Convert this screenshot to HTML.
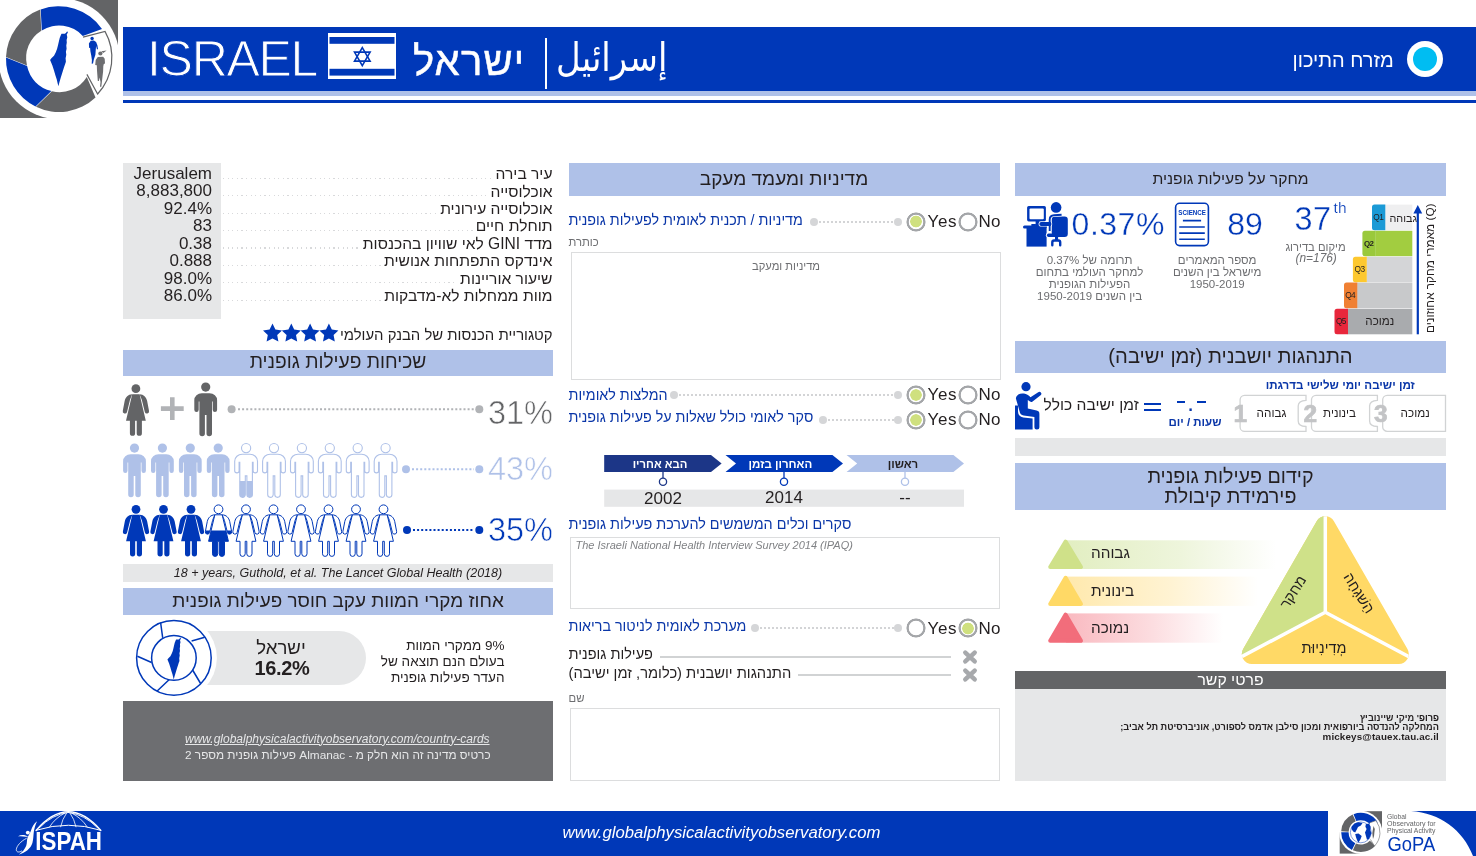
<!DOCTYPE html>
<html lang="he">
<head>
<meta charset="utf-8">
<title>Israel – GoPA Country Card</title>
<style>
*{box-sizing:border-box;margin:0;padding:0}
html,body{width:1476px;height:856px;overflow:hidden;background:#fff}
body{position:relative;font-family:"Liberation Sans","DejaVu Sans",sans-serif;color:#231f20}
.a{position:absolute}
.t{position:absolute;white-space:nowrap;line-height:1}
.r{direction:rtl;unicode-bidi:embed}
.lab{background:#fff;padding-left:3px}
.hb{position:absolute;background:#afc1e8;color:#231f20;text-align:center;direction:rtl;white-space:nowrap}
.blue{color:#0a36a8}
.blue.thin{color:#0038b8}
.dots{height:1.2px;background:repeating-linear-gradient(90deg,#d8d9db 0 1.2px,transparent 1.2px 4.6px)}
.rad{width:20px;height:20px;margin:-0.7px;border-radius:50%;background:radial-gradient(circle,#fff 0 6.9px,#a4a6a9 7.6px 9.2px,rgba(164,166,169,0) 9.9px)}
.dot{width:8px;height:8px;border-radius:50%;background:#d5d6d8}
.dl{height:2px;background:repeating-linear-gradient(90deg,#d3d4d6 0 2px,transparent 2px 4px)}
.box{border:1px solid #dcddde;background:#fff}
.thin{-webkit-text-stroke:0.35px #fff}
/* SECTION-CSS */
</style>
</head>
<body>
<!-- HEADER -->
<div class="a" style="left:123px;top:27px;width:1353px;height:63.5px;background:#0038b8"></div>
<div class="a" style="left:123px;top:90.5px;width:1353px;height:5px;background:#afc1e8"></div>
<div class="a" style="left:123px;top:99.5px;width:1353px;height:3px;background:#0038b8"></div>

<!-- logo -->
<svg class="a" style="left:0;top:0" width="124" height="124" viewBox="0 0 124 124">
 <rect x="70" y="0" width="48" height="50" fill="#636466"/><rect x="0" y="70" width="50" height="48" fill="#636466"/>
 <circle cx="59" cy="58.5" r="60.5" fill="#fff"/>
 <!-- ring segments -->
 <path d="M40.7 9.4 A53 53 0 0 1 102 28.9 L82.8 36 A32 32 0 0 0 41.8 30.4 Z" fill="#0038b8"/>
 <path d="M40.2 9.6 A53 53 0 0 0 6 57 L27 65.5 A32 32 0 0 1 41.3 30.7 Z" fill="#636466"/>
 <path d="M6 57.6 A53 53 0 0 0 35.5 106.5 L51.4 91 A32 32 0 0 1 27.1 66.1 Z" fill="#0038b8"/>
 <path d="M36 106.8 A53 53 0 0 0 95.5 97.5 L86.8 77 A32 32 0 0 1 51.9 91.3 Z" fill="#636466"/>
 <path d="M83 37.2L105 31.4A53.5 53.5 0 0 1 97.6 94L86.9 74.4" fill="#fff" stroke="#636466" stroke-width="1.2"/>
 <!-- map -->
 <path d="M67.2 31.3L67.9 32.4L66.7 34.6L67.3 37.3L66.6 39.9L66.8 42.5L66.3 45.6L66.6 48.7L65.9 51.7L66.3 54.8L65.6 58.3L65.9 61.8L65.0 64.4L64.1 67.1L63.0 70.6L61.9 74.1L60.8 77.6L59.5 82.0L58.4 86.3L57.5 82.8L56.7 79.3L55.3 75.0L54.0 70.6L52.3 65.3L50.1 60.1L51.4 58.3L54.0 55.7L55.8 52.2L57.1 48.7L58.0 45.2L58.8 41.7L59.7 38.1L60.9 35.1L61.5 33.8L65.0 33.8L66.3 32.4Z" fill="#0038b8"/>
 <!-- runners -->
 <g fill="#0038b8"><circle cx="92.1" cy="38.5" r="1.7"/><path d="M90.7 40.8L93.9 40.6L96.1 42.1L97.4 45.2L98.0 49.1L97.0 49.5L96.1 46.0L95.7 50.4L95.4 54.8L93.9 59.2L93.0 63.6L91.7 63.7L91.9 60.1L91.3 55.7L90.4 51.3L90.1 47.8L89.1 48.0L88.9 43.4Z"/></g>
 <g fill="#6d6e71"><circle cx="100.4" cy="53.5" r="2.1"/><path d="M101.3 51.3L106.6 50.4L103.3 52.9Z"/><path d="M97.8 57.0L103.1 56.7L104.7 58.7L105.0 63.6L103.8 64.0L103.3 66.2L103.1 71.5L102.4 77.6L101.8 82.8L101.3 86.8L100.0 86.8L100.5 82.0L99.6 77.6L98.9 81.1L97.8 81.1L97.4 75.8L97.0 70.6L96.8 65.3L95.2 64.9L95.7 60.1Z"/></g>
</svg>
<div class="t" style="left:147px;top:30px;font-size:50px;line-height:58px;color:#fff;letter-spacing:-1.3px;-webkit-text-stroke:1px #0038b8">ISRAEL</div>
<!-- flag -->
<svg class="a" style="left:328px;top:33px" width="68" height="46" viewBox="0 0 68 46">
 <rect x="0.75" y="0.75" width="66.5" height="44.5" fill="#fff" stroke="#fff" stroke-width="1.5"/>
 <rect x="1.5" y="4" width="65" height="6.8" fill="#0038b8"/>
 <rect x="1.5" y="35.8" width="65" height="6.8" fill="#0038b8"/>
 <g fill="none" stroke="#0038b8" stroke-width="1.6" stroke-linejoin="miter">
  <path d="M34.3 14.6 L42.1 28.1 L26.5 28.1 Z"/><path d="M34.3 32.6 L42.1 19.1 L26.5 19.1 Z"/>
 </g>
</svg>
<div class="t r" style="left:413px;top:32px;font-size:40px;line-height:58px;color:#fff;letter-spacing:1.2px;-webkit-text-stroke:0.5px #fff">ישראל</div>
<div class="a" style="left:545px;top:38px;width:1.6px;height:51px;background:#fff"></div>
<div class="t r" style="left:556px;top:29.2px;font-size:36px;line-height:58px;color:#fff;font-family:'DejaVu Sans',sans-serif;transform:scale(0.942,1.08);transform-origin:0 50%">إسرائيل</div>
<div class="t r" style="left:1292.5px;top:49px;font-size:20px;line-height:23px;color:#fff">מזרח התיכון</div>
<div class="a" style="left:1407px;top:41px;width:36px;height:36px;border-radius:50%;background:#fff"></div>
<div class="a" style="left:1413px;top:47px;width:24px;height:24px;border-radius:50%;background:#00bdf2"></div>
<!-- HEADER-CONTENT -->

<!-- LEFT -->
<div class="a" style="left:123px;top:163px;width:98px;height:156px;background:#e6e7e8"></div>
<div class="t" style="right:1264px;top:163.9px;font-size:17px;line-height:20px">Jerusalem</div>
<div class="a dots" style="left:223px;top:177.7px;width:329px"></div>
<div class="t r lab" style="right:923.5px;top:164.1px;font-size:15.6px;line-height:20px">עיר בירה</div>
<div class="t" style="right:1264px;top:181.3px;font-size:17px;line-height:20px">8,883,800</div>
<div class="a dots" style="left:223px;top:195.1px;width:329px"></div>
<div class="t r lab" style="right:923.5px;top:181.5px;font-size:15.6px;line-height:20px">אוכלוסייה</div>
<div class="t" style="right:1264px;top:198.8px;font-size:17px;line-height:20px">92.4%</div>
<div class="a dots" style="left:223px;top:212.6px;width:329px"></div>
<div class="t r lab" style="right:923.5px;top:199.0px;font-size:15.6px;line-height:20px">אוכלוסייה עירונית</div>
<div class="t" style="right:1264px;top:216.2px;font-size:17px;line-height:20px">83</div>
<div class="a dots" style="left:223px;top:230.0px;width:329px"></div>
<div class="t r lab" style="right:923.5px;top:216.4px;font-size:15.6px;line-height:20px">תוחלת חיים</div>
<div class="t" style="right:1264px;top:233.6px;font-size:17px;line-height:20px">0.38</div>
<div class="a dots" style="left:223px;top:247.4px;width:329px"></div>
<div class="t r lab" style="right:923.5px;top:233.8px;font-size:15.6px;line-height:20px">מדד GINI לאי שוויון בהכנסות</div>
<div class="t" style="right:1264px;top:251.1px;font-size:17px;line-height:20px">0.888</div>
<div class="a dots" style="left:223px;top:264.9px;width:329px"></div>
<div class="t r lab" style="right:923.5px;top:251.3px;font-size:15.6px;line-height:20px">אינדקס התפתחות אנושית</div>
<div class="t" style="right:1264px;top:268.5px;font-size:17px;line-height:20px">98.0%</div>
<div class="a dots" style="left:223px;top:282.3px;width:329px"></div>
<div class="t r lab" style="right:923.5px;top:268.7px;font-size:15.6px;line-height:20px">שיעור אוריינות</div>
<div class="t" style="right:1264px;top:285.9px;font-size:17px;line-height:20px">86.0%</div>
<div class="a dots" style="left:223px;top:299.7px;width:329px"></div>
<div class="t r lab" style="right:923.5px;top:286.1px;font-size:15.6px;line-height:20px">מוות ממחלות לא-מדבקות</div>
<div class="t r" style="right:923.5px;top:324.5px;font-size:14.9px;line-height:20px">קטגוריית הכנסות של הבנק העולמי</div>
<svg class="a" style="left:262px;top:322px" width="78" height="22" viewBox="0 0 78 22"><defs><path id="st" d="M0 -10L2.9 -4L9.5 -3.1L4.7 1.5L5.9 8.1L0 5L-5.9 8.1L-4.7 1.5L-9.5 -3.1L-2.9 -4Z"/></defs><g fill="#0038b8"><use href="#st" x="10.5" y="11.5"/><use href="#st" x="29.3" y="11.5"/><use href="#st" x="48.1" y="11.5"/><use href="#st" x="66.9" y="11.5"/></g></svg>
<div class="hb" style="left:123px;top:349.6px;width:430px;height:26px;font-size:19.2px;line-height:24.6px">שכיחות פעילות גופנית</div>
<svg class="a" style="left:118px;top:378px" width="440" height="184" viewBox="118 378 440 184">
<defs>
<g id="man"><circle cx="11.4" cy="4.7" r="4.6"/><path d="M7.5 10.8H15.3A7.5 7 0 0 1 22.8 17.8V27.3A2.2 2.2 0 0 1 18.4 27.3V19H17.7V51.2A2.6 2.6 0 0 1 12.2 51.2V32.5H10.6V51.2A2.6 2.6 0 0 1 5.1 51.2V19H4.4V27.3A2.2 2.2 0 0 1 0 27.3V17.8A7.5 7 0 0 1 7.5 10.8Z"/></g>
<g id="wom"><circle cx="13.3" cy="4.5" r="4.4"/>
<path d="M9.6 10H17L23.2 36.5H19.3V49A2.5 2.5 0 0 1 14.1 49V36.5H12.5V49A2.5 2.5 0 0 1 7.3 49V36.5H3.4Z"/>
<path d="M9.6 10C5.4 10.2 3 13 2.1 16.6L0.2 26.6A2.15 2.15 0 0 0 4.4 27.7L7.4 15.6L9.6 10Z"/>
<path d="M17 10C21.2 10.2 23.6 13 24.5 16.6L26.4 26.6A2.15 2.15 0 0 1 22.2 27.7L19.2 15.6L17 10Z"/></g>
<clipPath id="cm"><rect x="-2" y="37.6" width="30" height="20"/></clipPath>
<clipPath id="cw"><rect x="-2" y="25.7" width="32" height="30"/></clipPath>
</defs>
<g fill="#636466"><use href="#wom" x="122.6" y="384.2"/><use href="#man" x="194.3" y="382.4"/></g>
<path d="M172.3 397.2V420M160.9 408.6H183.7" stroke="#b1b3b6" stroke-width="4.6" fill="none"/>
<g fill="#b1b3b6"><circle cx="231.6" cy="409.2" r="4"/><circle cx="479.3" cy="409.2" r="4"/></g>
<path d="M238 409.2H474" stroke="#b1b3b6" stroke-width="2" stroke-dasharray="2 2.1" fill="none"/>
<use href="#man" x="123.1" y="443.4" fill="#afc1e8"/><use href="#man" x="151.0" y="443.4" fill="#afc1e8"/><use href="#man" x="178.9" y="443.4" fill="#afc1e8"/><use href="#man" x="206.8" y="443.4" fill="#afc1e8"/><use href="#man" x="234.7" y="443.4" fill="#fff" stroke="#afc1e8" stroke-width="1.1"/><g transform="translate(234.7 443.4)" clip-path="url(#cm)"><use href="#man" fill="#afc1e8"/></g><use href="#man" x="262.6" y="443.4" fill="#fff" stroke="#afc1e8" stroke-width="1.1"/><use href="#man" x="290.5" y="443.4" fill="#fff" stroke="#afc1e8" stroke-width="1.1"/><use href="#man" x="318.4" y="443.4" fill="#fff" stroke="#afc1e8" stroke-width="1.1"/><use href="#man" x="346.3" y="443.4" fill="#fff" stroke="#afc1e8" stroke-width="1.1"/><use href="#man" x="374.2" y="443.4" fill="#fff" stroke="#afc1e8" stroke-width="1.1"/>
<g fill="#afc1e8"><circle cx="406" cy="469.3" r="4"/><circle cx="479.3" cy="469.3" r="4"/></g>
<path d="M412 469.3H474" stroke="#afc1e8" stroke-width="2" stroke-dasharray="2 2.1" fill="none"/>
<use href="#wom" x="122.7" y="504.8" fill="#0038b8"/><use href="#wom" x="150.2" y="504.8" fill="#0038b8"/><use href="#wom" x="177.7" y="504.8" fill="#0038b8"/><use href="#wom" x="205.2" y="504.8" fill="#fff" stroke="#0038b8" stroke-width="1"/><g transform="translate(205.2 504.8)" clip-path="url(#cw)"><use href="#wom" fill="#0038b8"/></g><use href="#wom" x="232.7" y="504.8" fill="#fff" stroke="#0038b8" stroke-width="1"/><use href="#wom" x="260.2" y="504.8" fill="#fff" stroke="#0038b8" stroke-width="1"/><use href="#wom" x="287.7" y="504.8" fill="#fff" stroke="#0038b8" stroke-width="1"/><use href="#wom" x="315.2" y="504.8" fill="#fff" stroke="#0038b8" stroke-width="1"/><use href="#wom" x="342.7" y="504.8" fill="#fff" stroke="#0038b8" stroke-width="1"/><use href="#wom" x="370.2" y="504.8" fill="#fff" stroke="#0038b8" stroke-width="1"/>
<g fill="#0038b8"><circle cx="407" cy="530" r="4"/><circle cx="479.3" cy="530" r="4"/></g>
<path d="M413 530H474" stroke="#0038b8" stroke-width="2" stroke-dasharray="2 2.1" fill="none"/>
</svg>
<div class="t" style="right:923px;top:395px;font-size:32.5px;line-height:36px;-webkit-text-stroke:0.6px #fff;color:#636466">31%</div>
<div class="t" style="right:923px;top:451px;font-size:32.5px;line-height:36px;-webkit-text-stroke:0.6px #fff;color:#afc1e8">43%</div>
<div class="t" style="right:923px;top:512px;font-size:32.5px;line-height:36px;-webkit-text-stroke:0.6px #fff;color:#0038b8">35%</div>
<div class="a" style="left:123px;top:563.5px;width:430px;height:18px;background:#e6e7e8;text-align:center;font-style:italic;font-size:12.5px;line-height:18px;white-space:nowrap">18 + years, Guthold, et al. The Lancet Global Health (2018)</div>
<div class="hb" style="left:123px;top:588px;width:430px;height:26.5px;font-size:18.9px;line-height:25px">אחוז מקרי המוות עקב חוסר פעילות גופנית</div>
<div class="a" style="left:180px;top:630.8px;width:185.5px;height:54px;background:#e6e7e8;border-radius:0 27px 27px 0"></div>
<svg class="a" style="left:130px;top:614px" width="90" height="88" viewBox="130 614 90 88">
<circle cx="173.9" cy="657.9" r="43" fill="#fff"/>
<g fill="none" stroke="#0038b8" stroke-width="1.5"><circle cx="173.9" cy="657.9" r="37.3"/><circle cx="173.9" cy="657.9" r="22.3"/>
<path d="M160.6 622.5L162.7 637.8M191.6 641L204.8 637.2M192.6 670L200.6 683.5M169.3 679.5L156.9 691.2M137.4 656.2L151.6 662.5"/></g>
<path transform="translate(174.2 658.6) scale(0.76) translate(-59 -58.8)" d="M67.2 31.3L67.9 32.4L66.7 34.6L67.3 37.3L66.6 39.9L66.8 42.5L66.3 45.6L66.6 48.7L65.9 51.7L66.3 54.8L65.6 58.3L65.9 61.8L65.0 64.4L64.1 67.1L63.0 70.6L61.9 74.1L60.8 77.6L59.5 82.0L58.4 86.3L57.5 82.8L56.7 79.3L55.3 75.0L54.0 70.6L52.3 65.3L50.1 60.1L51.4 58.3L54.0 55.7L55.8 52.2L57.1 48.7L58.0 45.2L58.8 41.7L59.7 38.1L60.9 35.1L61.5 33.8L65.0 33.8L66.3 32.4Z" fill="#0038b8"/>
</svg>
<div class="t r" style="left:240px;width:82px;text-align:center;top:636.5px;font-size:18.6px;line-height:22px">ישראל</div>
<div class="t" style="left:240px;width:84px;text-align:center;top:656px;font-size:20px;line-height:24px;font-weight:bold;letter-spacing:-0.3px">16.2%</div>
<div class="t r" style="right:971.5px;top:637.6px;font-size:13.5px;line-height:16.2px;text-align:right">9% ממקרי המוות<br>בעולם הנם תוצאה של<br>העדר פעילות גופנית</div>
<div class="a" style="left:123px;top:701px;width:430px;height:80px;background:#6d6e71"></div>
<div class="t" style="left:185px;top:731.5px;font-size:12px;line-height:14px;font-style:italic;color:#e6e7e8;text-decoration:underline">www.globalphysicalactivityobservatory.com/country-cards</div>
<div class="t r" style="left:185px;top:747.5px;font-size:11.8px;line-height:14px;color:#e6e7e8">כרטיס מדינה זה הוא חלק מ - Almanac פעילות גופנית מספר 2</div>


<!-- MIDDLE -->
<div class="hb" style="left:568.5px;top:163.4px;width:431px;height:32.3px;font-size:19px;line-height:31.8px">מדיניות ומעמד מעקב</div>
<div class="t r blue" style="left:568.5px;top:211.4px;font-size:14.3px;line-height:18px">מדיניות / תכנית לאומית לפעילות גופנית</div>
<div class="a dot" style="left:810.0px;top:217.6px"></div><div class="a dot" style="left:893.5px;top:217.6px"></div><div class="a dl" style="left:819px;top:221px;width:74px"></div>
<div class="a rad" style="left:906.7px;top:212.3px"></div><div class="a" style="left:909.7px;top:215.3px;width:12.6px;height:12.6px;border-radius:50%;background:radial-gradient(circle,#cfe07f 0 5.5px,rgba(207,224,127,0) 6.2px)"></div>
<div class="a rad" style="left:958.7px;top:212.3px"></div>
<div class="t" style="left:927.6px;top:212px;font-size:17px;line-height:20px;letter-spacing:0.6px">Yes</div><div class="t" style="left:978.6px;top:212px;font-size:17px;line-height:20px;letter-spacing:0.2px">No</div>
<div class="t r" style="left:568.5px;top:235.5px;font-size:11.3px;line-height:13px;color:#6d6e71">כותרת</div>
<div class="a box" style="left:571px;top:252px;width:430px;height:127.5px"></div>
<div class="t r" style="left:571px;width:430px;text-align:center;top:259.5px;font-size:11.2px;line-height:13px;color:#6d6e71">מדיניות ומעקב</div>
<div class="t r blue" style="left:568.5px;top:385.8px;font-size:14.3px;line-height:18px">המלצות לאומיות</div>
<div class="a dot" style="left:670.3px;top:391px"></div><div class="a dot" style="left:893.5px;top:391px"></div><div class="a dl" style="left:679px;top:394px;width:214px"></div>
<div class="a rad" style="left:906.7px;top:385.7px"></div><div class="a" style="left:909.7px;top:388.7px;width:12.6px;height:12.6px;border-radius:50%;background:radial-gradient(circle,#cfe07f 0 5.5px,rgba(207,224,127,0) 6.2px)"></div>
<div class="a rad" style="left:958.7px;top:385.7px"></div>
<div class="t" style="left:927.6px;top:385px;font-size:17px;line-height:20px;letter-spacing:0.6px">Yes</div><div class="t" style="left:978.6px;top:385px;font-size:17px;line-height:20px;letter-spacing:0.2px">No</div>
<div class="t r blue" style="left:568.5px;top:408.1px;font-size:14.3px;line-height:18px">סקר לאומי כולל שאלות על פעילות גופנית</div>
<div class="a dot" style="left:819.0px;top:415.8px"></div><div class="a dot" style="left:893.5px;top:415.8px"></div><div class="a dl" style="left:828px;top:419px;width:66px"></div>
<div class="a rad" style="left:906.7px;top:410.5px"></div><div class="a" style="left:909.7px;top:413.5px;width:12.6px;height:12.6px;border-radius:50%;background:radial-gradient(circle,#cfe07f 0 5.5px,rgba(207,224,127,0) 6.2px)"></div>
<div class="a rad" style="left:958.7px;top:410.5px"></div>
<div class="t" style="left:927.6px;top:410px;font-size:17px;line-height:20px;letter-spacing:0.6px">Yes</div><div class="t" style="left:978.6px;top:410px;font-size:17px;line-height:20px;letter-spacing:0.2px">No</div>
<svg class="a" style="left:600px;top:452px" width="370" height="58" viewBox="600 452 370 58">
<path d="M604.2 454.9H711L721.6 463.4L711 472H604.2Z" fill="#1c3687"/>
<path d="M725.5 454.9H832.4L843 463.4L832.4 472H725.5L736 463.4Z" fill="#0038b8"/>
<path d="M846.6 454.9H953.4L964 463.4L953.4 472H846.6L857.2 463.4Z" fill="#afc1e8"/>
<rect x="604.2" y="489.6" width="359.8" height="17.2" fill="#e6e7e8"/>
<g fill="#fff" stroke-width="1.3"><path d="M663 472V478" stroke="#1c3687"/><circle cx="663" cy="481.8" r="3.6" stroke="#1c3687"/>
<path d="M784 472V478" stroke="#0038b8"/><circle cx="784" cy="481.8" r="3.6" stroke="#0038b8"/>
<path d="M905 472V478" stroke="#afc1e8"/><circle cx="905" cy="481.8" r="3.6" stroke="#afc1e8"/></g>
</svg>
<div class="t r" style="left:610px;width:100px;text-align:center;top:456.5px;font-size:11.3px;line-height:14px;font-weight:bold;color:#fff">הבא אחריו</div>
<div class="t r" style="left:730.4px;width:100px;text-align:center;top:456.5px;font-size:11.5px;line-height:14px;font-weight:bold;color:#fff">האחרון בזמן</div>
<div class="t r" style="left:853px;width:100px;text-align:center;top:456.5px;font-size:11.5px;line-height:14px;font-weight:bold;color:#231f20">ראשון</div>
<div class="t" style="left:613px;width:100px;text-align:center;top:488.8px;font-size:17px;line-height:19px">2002</div>
<div class="t" style="left:734px;width:100px;text-align:center;top:487.8px;font-size:17px;line-height:19px">2014</div>
<div class="t" style="left:855px;width:100px;text-align:center;top:488.2px;font-size:17px;line-height:19px">--</div>
<div class="t r blue" style="left:568.5px;top:514.8px;font-size:14.4px;line-height:18px">סקרים וכלים המשמשים להערכת פעילות גופנית</div>
<div class="a box" style="left:570px;top:537px;width:429.5px;height:72px"></div>
<div class="t" style="left:575.5px;top:539.2px;font-size:11px;line-height:13px;font-style:italic;color:#808285">The Israeli National Health Interview Survey 2014 (IPAQ)</div>
<div class="t r blue" style="left:568.5px;top:617.2px;font-size:14.3px;line-height:18px">מערכת לאומית לניטור בריאות</div>
<div class="a dot" style="left:751.0px;top:624.4px"></div><div class="a dot" style="left:893.5px;top:624.4px"></div><div class="a dl" style="left:760px;top:627px;width:134px"></div>
<div class="a rad" style="left:906.7px;top:619.1px"></div>
<div class="a rad" style="left:958.7px;top:619.1px"></div><div class="a" style="left:961.7px;top:622.1px;width:12.6px;height:12.6px;border-radius:50%;background:radial-gradient(circle,#cfe07f 0 5.5px,rgba(207,224,127,0) 6.2px)"></div>
<div class="t" style="left:927.6px;top:619px;font-size:17px;line-height:20px;letter-spacing:0.6px">Yes</div><div class="t" style="left:978.6px;top:619px;font-size:17px;line-height:20px;letter-spacing:0.2px">No</div>
<div class="t r" style="left:568.5px;top:645.3px;font-size:14.5px;line-height:18px">פעילות גופנית</div><div class="a" style="left:659.7px;top:656.3px;width:291.5px;height:1.4px;background:#d1d3d4"></div><svg class="a" style="left:962px;top:649.0px" width="16" height="16" viewBox="-8 -8 16 16"><path d="M-4.7 -4.4L4.7 4.4M4.7 -4.4L-4.7 4.4" stroke="#a7a9ac" stroke-width="4.5" stroke-linecap="round"/></svg>
<div class="t r" style="left:568.5px;top:663.5px;font-size:14.7px;line-height:18px">התנהגות יושבנית (כלומר, זמן ישיבה)</div><div class="a" style="left:797.8px;top:674.3px;width:153.4px;height:1.4px;background:#d1d3d4"></div><svg class="a" style="left:962px;top:667.0px" width="16" height="16" viewBox="-8 -8 16 16"><path d="M-4.7 -4.4L4.7 4.4M4.7 -4.4L-4.7 4.4" stroke="#a7a9ac" stroke-width="4.5" stroke-linecap="round"/></svg>
<div class="t r" style="left:568.5px;top:691.8px;font-size:11.3px;line-height:13px;color:#6d6e71">שם</div>
<div class="a box" style="left:570px;top:708px;width:429.5px;height:72.5px"></div>


<!-- RIGHT -->
<div class="hb" style="left:1015px;top:163.4px;width:431px;height:32.2px;font-size:15.7px;line-height:32px">מחקר על פעילות גופנית</div>
<svg class="a" style="left:1020px;top:200px" width="52" height="50" viewBox="1020 200 52 50">
<g fill="#0038b8">
<rect x="1027.1" y="205.9" width="18.8" height="15.5" rx="1.6"/>
<rect x="1029.5" y="208.6" width="14.3" height="10.7" rx="1" fill="#fff"/>
<rect x="1035.6" y="221" width="3.7" height="5"/>
<rect x="1031.2" y="223.9" width="5" height="2.2" rx="0.8"/>
<path d="M1024.5 225.5H1038V228.5H1024.5A1.5 1.5 0 0 1 1024.5 225.5Z"/>
<rect x="1026.5" y="226" width="20.1" height="20.6"/>
<rect x="1037" y="224.1" width="9.6" height="4"/>
<circle cx="1056.1" cy="207.4" r="5.3"/>
<rect x="1051.7" y="216.5" width="16.1" height="20.4" rx="3.2"/>
<path d="M1048.3 232.8H1051.6V237.6H1048.3A2.4 2.4 0 0 1 1048.3 232.8Z" fill="#fff"/>
<path d="M1048.6 235.2H1060" stroke="#0038b8" stroke-width="3.4" stroke-linecap="round" fill="none"/>
<path d="M1049.7 231V219.6Q1049.7 215.4 1054 215.2L1061.6 214.7" stroke="#fff" stroke-width="3.2" fill="none"/>
<path d="M1041.2 224H1049.6" stroke="#fff" stroke-width="5.2" stroke-linecap="round" fill="none"/>
<path d="M1049.7 231V219.6Q1049.7 215.4 1054 215.2L1061.6 214.7" stroke="#0038b8" stroke-width="1.9" fill="none"/>
<path d="M1041.2 224H1049.6" stroke="#0038b8" stroke-width="3.8" stroke-linecap="round" fill="none"/>
<rect x="1049" y="222.1" width="1.65" height="3.8"/>
<rect x="1055" y="236.5" width="3.1" height="4"/>
<path d="M1051.1 245.3V242.3A3 3 0 0 1 1054.1 239.3H1058.4A3 3 0 0 1 1061.4 242.3V245.3A1.2 1.2 0 0 1 1059 245.3V242.6A0.8 0.8 0 0 0 1058.2 241.8H1054.3A0.8 0.8 0 0 0 1053.5 242.6V245.3A1.2 1.2 0 0 1 1051.1 245.3Z"/>
</g></svg>
<div class="t blue thin" style="left:1071.6px;top:205.6px;font-size:32px;line-height:36px;letter-spacing:0.5px">0.37%</div>
<svg class="a" style="left:1172px;top:200px" width="40" height="50" viewBox="1172 200 40 50">
<rect x="1175.6" y="203.3" width="32.8" height="42.3" rx="4" fill="#fff" stroke="#0038b8" stroke-width="1.6"/>
<path d="M1182.9 220.6H1201.1M1179.2 227H1204.8M1179.2 233.1H1204.8M1179.2 239.2H1204.8" stroke="#0038b8" stroke-width="1.6" fill="none"/>
<text x="1192.1" y="214.7" text-anchor="middle" font-family="Liberation Sans, sans-serif" font-weight="bold" font-size="6.6" fill="#0038b8" textLength="27.6" lengthAdjust="spacingAndGlyphs">SCIENCE</text>
</svg>
<div class="t blue thin" style="left:1227.2px;top:205.8px;font-size:32px;line-height:36px">89</div>
<div class="t r" style="left:1029.6px;width:120px;text-align:center;top:255.4px;font-size:11.5px;line-height:11.75px;color:#6d6e71;white-space:normal">תרומה של 0.37%<br>למחקר העולמי בתחום<br>הפעילות הגופנית<br>בין השנים 1950-2019</div>
<div class="t r" style="left:1157.2px;width:120px;text-align:center;top:255.4px;font-size:11.5px;line-height:11.75px;color:#6d6e71;white-space:normal">מספר המאמרים<br>מישראל בין השנים<br>1950-2019</div>
<div class="t blue thin" style="left:1294.4px;top:201.3px;font-size:32.4px;line-height:36px;letter-spacing:0.7px">37<span style="font-size:15.4px;position:relative;top:-16.9px;left:1.6px;letter-spacing:0.3px;-webkit-text-stroke:0.2px #fff">th</span></div>
<div class="t r" style="left:1255.5px;width:120px;text-align:center;top:240.6px;font-size:11.2px;line-height:13px;color:#6d6e71">מיקום בדירוג</div>
<div class="t" style="left:1256.2px;width:120px;text-align:center;top:251px;font-size:11.9px;line-height:14px;font-style:italic;color:#6d6e71">(n=176)</div>
<svg class="a" style="left:1330px;top:200px" width="125" height="140" viewBox="1330 200 125 140">
<rect x="1385" y="204.6" width="27.3" height="25.6" fill="#efeff0"/>
<path d="M1374.5 204.6H1385.3V230.2H1374.5A2.5 2.5 0 0 1 1372 227.7V207.1A2.5 2.5 0 0 1 1374.5 204.6Z" fill="#1b9ad6"/>
<rect x="1375.5" y="230.8" width="36.8" height="25.4" fill="#a2cd40"/>
<path d="M1364.9 230.8H1375.7V256.2H1364.9A2.5 2.5 0 0 1 1362.4 253.7V233.3A2.5 2.5 0 0 1 1364.9 230.8Z" fill="#9ac93c"/>
<rect x="1366.6" y="256.7" width="45.7" height="25.5" fill="#d4d5d7"/>
<path d="M1355.4 256.7H1366.8V282.2H1355.4A2.5 2.5 0 0 1 1352.9 279.7V259.2A2.5 2.5 0 0 1 1355.4 256.7Z" fill="#fdc82f"/>
<rect x="1357.1" y="282.6" width="55.2" height="25.6" fill="#c8c9cb"/>
<path d="M1346.5 282.6H1357.3V308.2H1346.5A2.5 2.5 0 0 1 1344 305.7V285.1A2.5 2.5 0 0 1 1346.5 282.6Z" fill="#f08033"/>
<rect x="1347.8" y="308.8" width="64.5" height="25.5" fill="#a9abae"/>
<path d="M1337 308.8H1348V334.3H1337A2.5 2.5 0 0 1 1334.5 331.8V311.3A2.5 2.5 0 0 1 1337 308.8Z" fill="#e8273c"/>
<g font-family="Liberation Sans, sans-serif" font-size="8.3" fill="#231f20" text-anchor="middle" letter-spacing="-0.55">
<text x="1378.3" y="220.4">Q1</text><text x="1368.7" y="246.2" font-weight="bold" font-size="7.9">Q2</text><text x="1359.5" y="272.4">Q3</text><text x="1350.2" y="298.4">Q4</text><text x="1340.9" y="324.4">Q5</text></g>
<path d="M1417.8 334.3V212" stroke="#0038b8" stroke-width="2.2" fill="none"/>
<path d="M1417.8 205L1422.2 213.6H1413.4Z" fill="#0038b8"/>
</svg>
<div class="t r" style="left:1389.5px;top:211.4px;font-size:10.8px;line-height:14px;color:#231f20">גבוהה</div>
<div class="t r" style="left:1365.3px;top:314.2px;font-size:11.6px;line-height:14px;color:#231f20">נמוכה</div>
<div class="t" style="left:1366.2px;top:262px;width:128px;text-align:center;font-size:11.8px;line-height:14px;transform:rotate(-90deg);direction:ltr">מאמרי מחקר אחוזונים (Q)</div>
<div class="hb" style="left:1015px;top:341px;width:431px;height:32px;font-size:20.2px;line-height:31px">התנהגות יושבנית (זמן ישיבה)</div>
<svg class="a" style="left:1013px;top:380px" width="32" height="52" viewBox="1013 380 32 52">
<g fill="#0038b8"><circle cx="1026" cy="386.7" r="4.6"/>
<path d="M1015.9 398.5C1016.5 394.5 1020 393 1024 393.6C1026.5 394 1028.5 395.4 1030.5 397.2L1038.2 392.2A1.9 1.9 0 0 1 1040.6 395.2L1032.6 401.4A2.2 2.2 0 0 1 1030 401.5L1027.8 400V408.6L1036.6 410.6A3.4 3.4 0 0 1 1039.4 414V427A2.5 2.5 0 0 1 1034.4 427V417L1023.6 415.6A5 5 0 0 1 1019.6 411.5Z"/>
<path d="M1015 405.4H1018V411.5A6.2 6.2 0 0 0 1023.3 417.4L1032.6 418.6V429.4H1015Z"/></g></svg>
<div class="t r" style="left:1043.6px;top:396px;font-size:15.6px;line-height:18px">זמן ישיבה כולל</div>
<div class="a" style="left:1143.6px;top:403px;width:17.4px;height:2px;background:#0038b8"></div>
<div class="a" style="left:1143.6px;top:409.4px;width:17.4px;height:2px;background:#0038b8"></div>
<div class="a" style="left:1177px;top:400.8px;width:8.4px;height:1.9px;background:#0038b8"></div>
<div class="a" style="left:1197.3px;top:400.8px;width:8.4px;height:1.9px;background:#0038b8"></div>
<div class="t blue" style="left:1187.2px;top:390.5px;font-size:24px;line-height:24px">.</div>
<div class="t r blue" style="left:1168.5px;top:416.4px;font-size:11.5px;line-height:13px;font-weight:bold">שעות / יום</div>
<div class="t r blue" style="left:1265.8px;top:378px;font-size:11.6px;line-height:13px;font-weight:bold">זמן ישיבה יומי שלישי בדרגתו</div>
<svg class="a" style="left:1230px;top:392px" width="220" height="44" viewBox="1230 392 220 44">
<g fill="#fff" stroke="#d1d3d4" stroke-width="1.3">
<path id="pz" d="M1244.6 395.3H1306V400.3C1301 400.5 1298.2 403 1298.2 406V421C1298.2 424 1301 426.3 1306 426.5V431.4H1244.6A4.5 4.5 0 0 1 1240.1 426.9V399.8A4.5 4.5 0 0 1 1244.6 395.3Z"/>
<use href="#pz" x="71.4"/>
<path d="M1387.2 395.3H1445.5V431.4H1387.2A4.5 4.5 0 0 1 1382.7 426.9V399.8A4.5 4.5 0 0 1 1387.2 395.3Z"/>
</g>
<g font-family="Liberation Sans, sans-serif" font-weight="bold" font-size="24.5" fill="#c3c4c6" stroke="#c3c4c6" stroke-width="0.7" text-anchor="middle"><text x="1240.4" y="421.9">1</text><text x="1310.3" y="421.9">2</text><text x="1380.8" y="421.9">3</text></g>
</svg>
<div class="t r" style="left:1221.5px;width:100px;text-align:center;top:405.2px;font-size:11.7px;line-height:16px">גבוהה</div>
<div class="t r" style="left:1289.5px;width:100px;text-align:center;top:405.2px;font-size:11.6px;line-height:16px">בינונית</div>
<div class="t r" style="left:1365.2px;width:100px;text-align:center;top:405.2px;font-size:11.7px;line-height:16px">נמוכה</div>
<div class="a" style="left:1015px;top:438.2px;width:431px;height:18.2px;background:#e6e7e8"></div>
<div class="hb" style="left:1015px;top:463px;width:431px;height:47px;font-size:19.7px;line-height:20.8px;padding-top:2.5px">קידום פעילות גופנית<br>פירמידת קיבולת</div>
<svg class="a" style="left:1040px;top:512px" width="380" height="156" viewBox="1040 512 380 156">
<defs>
<linearGradient id="gg" x1="0" x2="1"><stop offset="0" stop-color="#e2eec1"/><stop offset="0.55" stop-color="#eef5dc"/><stop offset="1" stop-color="#fff"/></linearGradient>
<linearGradient id="gy" x1="0" x2="1"><stop offset="0" stop-color="#ffe9ad"/><stop offset="0.55" stop-color="#fff3d3"/><stop offset="1" stop-color="#fff"/></linearGradient>
<linearGradient id="gr" x1="0" x2="1"><stop offset="0" stop-color="#f9b9c0"/><stop offset="0.55" stop-color="#fcdde0"/><stop offset="1" stop-color="#fff"/></linearGradient>
</defs>
<rect x="1066" y="540.3" width="210" height="28.7" fill="url(#gg)"/>
<rect x="1066" y="576.6" width="192" height="29.3" fill="url(#gy)"/>
<rect x="1066" y="613.4" width="157" height="29.3" fill="url(#gr)"/>
<g stroke-linejoin="round" stroke-width="4">
<path d="M1065.6 541.6L1081 567H1050.2Z" fill="#cfe189" stroke="#cfe189"/>
<path d="M1065.6 577.8L1081 603.9H1050.2Z" fill="#ffd966" stroke="#ffd966"/>
<path d="M1065.6 614.6L1081 640.7H1050.2Z" fill="#f26d7b" stroke="#f26d7b"/>
</g>
<clipPath id="tri"><path d="M1333.93 521.19L1407.47 649.01A10 10 0 0 1 1398.8 664H1251.8A10 10 0 0 1 1243.13 649.01L1316.67 521.19A10 10 0 0 1 1333.93 521.19Z"/></clipPath>
<g clip-path="url(#tri)"><rect x="1230" y="510" width="190" height="160" fill="#ffd966"/>
<path d="M1325.3 500V612.3L1225 665.6V500Z" fill="#cfe189"/>
<path d="M1325.3 505V612.3L1233 661.3M1325.3 612.3L1417.6 661.3" stroke="#fff" stroke-width="3.5" fill="none"/></g>
</svg>
<div class="t r" style="left:1091px;top:545px;font-size:15.3px;line-height:16px">גבוהה</div>
<div class="t r" style="left:1091px;top:582.5px;font-size:15.3px;line-height:16px">בינונית</div>
<div class="t r" style="left:1091px;top:619.7px;font-size:15.3px;line-height:16px">נמוכה</div>
<div class="t r" style="left:1258px;top:584px;width:70px;text-align:center;font-size:14.5px;line-height:16px;transform:rotate(-58deg)">מחקר</div>
<div class="t r" style="left:1324px;top:585px;width:70px;text-align:center;font-size:14.5px;line-height:16px;transform:rotate(58deg)">הַשׁגָחָה</div>
<div class="t r" style="left:1289px;top:640px;width:70px;text-align:center;font-size:14.5px;line-height:16px">מְדִינִיוּת</div>
<div class="a" style="left:1015px;top:671px;width:431px;height:18.4px;background:#636466"></div>
<div class="t r" style="left:1015px;width:431px;text-align:center;top:671.3px;font-size:15.8px;line-height:18px;color:#fff">פרטי קשר</div>
<div class="a" style="left:1015px;top:689.3px;width:431px;height:92.2px;background:#e6e7e8"></div>
<div class="t r" style="right:37px;top:713.8px;font-size:9.2px;line-height:9.65px;font-weight:bold;text-align:right;color:#231f20">פרופ' מיקי שיינוביץ<br>המחלקה להנדסה ביורפואית ומכון סילבן אדמס לספורט, אוניברסיטת תל אביב;<br><span style="font-size:9.8px;letter-spacing:0.15px;direction:ltr;unicode-bidi:embed;position:relative;top:-1px">mickeys@tauex.tau.ac.il</span></div>


<!-- FOOTER -->
<div class="a" style="left:0;top:811px;width:1476px;height:45px;background:#0038b8"></div>

<div class="t" style="left:0;width:1443px;text-align:center;top:822.5px;font-size:16.7px;line-height:19px;font-style:italic;color:#fff">www.globalphysicalactivityobservatory.com</div>
<svg class="a" style="left:0;top:808px" width="115" height="48" viewBox="0 808 115 48">
<g fill="none" stroke="#fff" stroke-linecap="round">
<path d="M36.1 830.4Q68.3 793.2 100.8 830.4" stroke-width="1.5"/>
<path d="M36.4 830.2Q68.3 820.2 100.5 830.2" stroke-width="1"/>
<path d="M39.3 827.8Q52 814.5 68.3 812.4M97.6 827.8Q84.6 814.5 68.3 812.4" stroke-width="0.9"/>
<path d="M65 813Q55 818 49.5 827M71.6 813Q81.6 818 87.2 827M66.5 813.2Q62.3 819 60.6 826.8M70.1 813.2Q74.3 819 76 826.8" stroke-width="0.8"/>
</g>
<g fill="#fff"><circle cx="27.8" cy="832.6" r="1.95"/>
<path d="M37.1 821.2C35.2 825 34.4 828.3 33.8 832C33.3 836 33.4 839.5 32.4 843C30.6 848.6 25.5 852.6 18.8 854.7C22.6 852 25 849 26.2 845.8C27.2 843 26.6 840 27.6 837.4C28.6 834.8 30.2 833 31 830.4C32.2 826.5 34 823.4 37.1 821.2Z"/>
<path d="M18.1 836.2C21 834.3 25 834.4 28.4 836.8C25 836.3 21.5 836.8 18.1 836.2Z"/>
<path d="M26.6 838.3C21 841 16.6 846 16.3 849.5C16.2 852.3 19 852.8 22 850.8" fill="none" stroke="#fff" stroke-width="0.8"/></g>
<text x="35.3" y="850.4" font-family="Liberation Sans, sans-serif" font-weight="bold" font-size="25" fill="#fff" textLength="66.6" lengthAdjust="spacingAndGlyphs">ISPAH</text>
</svg>
<svg class="a" style="left:1326px;top:811px" width="150" height="45" viewBox="1326 811 150 45">
<rect x="1328" y="811" width="148" height="45" fill="#fff"/>
<path d="M1411 811C1440 813 1463 830 1473 856H1476V811Z" fill="#0038b8"/>
<rect x="1361" y="811.2" width="21" height="21" fill="#636466"/><rect x="1339.7" y="832" width="21" height="21.6" fill="#636466"/>
<circle cx="1360.8" cy="832.4" r="21.6" fill="#fff"/>
<g fill="none" stroke-width="7.4">
<path d="M1354.9 817.6A15.9 15.9 0 0 1 1374.5 824.4" stroke="#0038b8"/>
<path d="M1354.2 817.9A15.9 15.9 0 0 0 1344.9 831.5" stroke="#636466"/>
<path d="M1344.9 832.3A15.9 15.9 0 0 0 1353.6 846.6" stroke="#0038b8"/>
<path d="M1354.4 846.9A15.9 15.9 0 0 0 1372.6 843.2" stroke="#636466"/>
</g>
<path d="M1369.8 822.8L1376 820.6A19.5 19.5 0 0 1 1374.5 846L1370.5 839.5" fill="#fff" stroke="#636466" stroke-width="0.6"/>
<circle cx="1360.8" cy="832.4" r="10.4" fill="#fff" stroke="#0038b8" stroke-width="0.5"/>
<path d="M1351.5 826.7L1354.4 823.4L1358.5 822.2L1362.5 823.0L1360.9 825.5L1358.0 827.1L1356.8 829.5L1355.2 832.4L1353.2 831.6L1351.5 829.1ZM1355.2 834.0L1358.5 833.6L1361.7 836.0L1360.5 839.3L1358.5 842.6L1357.2 840.5L1356.0 837.3ZM1365.8 824.3L1369.0 823.4L1370.7 826.7L1370.2 830.0L1371.5 833.2L1369.0 838.9L1367.0 839.7L1365.8 835.6L1365.0 832.4L1366.6 829.1L1365.4 826.7Z" fill="#0038b8"/>
<path d="M1373.5 826L1374.8 829L1374 836L1373 839L1372.3 833Z" fill="#636466"/>
<g font-family="Liberation Sans, sans-serif" fill="#636466" font-size="7"><text x="1387" y="818.7" textLength="19.4" lengthAdjust="spacingAndGlyphs">Global</text><text x="1387" y="825.6" textLength="48.7" lengthAdjust="spacingAndGlyphs">Observatory for</text><text x="1387" y="832.5" textLength="48.4" lengthAdjust="spacingAndGlyphs">Physical Activity</text></g>
<text x="1387.6" y="850.7" font-family="Liberation Sans, sans-serif" font-size="20.4" fill="#0038b8" textLength="47.6" lengthAdjust="spacingAndGlyphs">GoPA</text>
</svg>
<!-- FOOTER-CONTENT -->
</body>
</html>
